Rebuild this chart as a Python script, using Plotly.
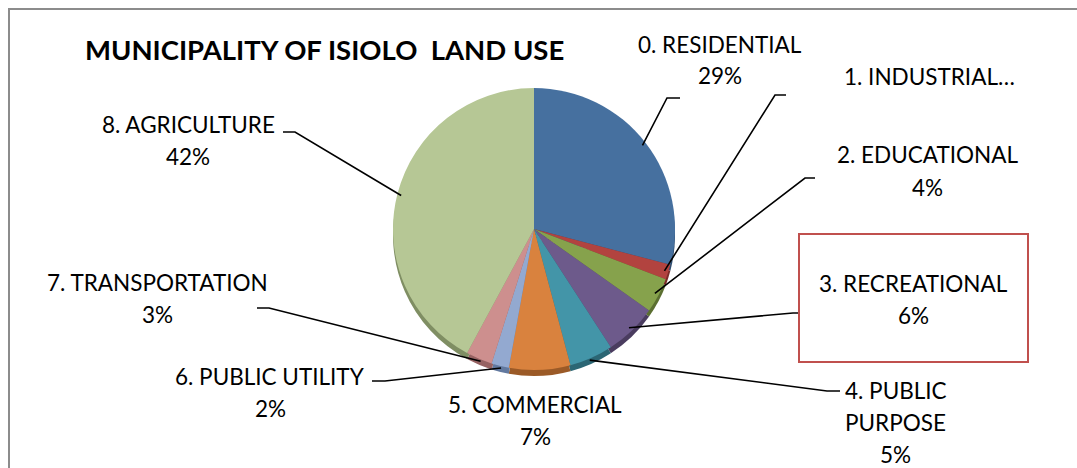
import math
import plotly.graph_objects as go

# Land use shares (%) for the municipality, clockwise from 12 o'clock
categories = [
    "0. RESIDENTIAL", "1. INDUSTRIAL", "2. EDUCATIONAL", "3. RECREATIONAL",
    "4. PUBLIC PURPOSE", "5. COMMERCIAL", "6. PUBLIC UTILITY",
    "7. TRANSPORTATION", "8. AGRICULTURE",
]
values = [29, 1.7, 4, 6, 5, 7, 2, 3, 42]

colors = ["#46709F", "#B2433F", "#86A24C", "#6D5A8B", "#4395A8",
          "#D9823E", "#93A9D0", "#CD8F8E", "#B6C795"]
rim_colors = ["#2E4D70", "#7A2B28", "#5B6F31", "#4A3C5F", "#2B6674",
              "#9B5A27", "#62799F", "#966262", "#7F8E63"]

W, H = 1077, 468
CX, CY, R = 534, 229, 141      # pie centre and radius in pixels
RIM = 6                        # depth of the 3-D edge

def px(x):
    return x / W

def py(y):
    return 1 - y / H

total = sum(values)

# label placement: text centre x, first-line y, leader elbow and leader end
label_layout = [
    dict(x=720, y=44, elbow=(667, 98), end=(680, 98)),
    dict(x=929, y=77, elbow=(775, 95), end=(786, 95), clipped=True),
    dict(x=927, y=155, elbow=(805, 178), end=(815, 178)),
    dict(x=913, y=283, elbow=(793, 313), end=(799, 313)),
    dict(x=896, y=390, elbow=(827, 391), end=(840, 391), wrap=True),
    dict(x=535, y=404),
    dict(x=270, y=376, elbow=(385, 381), end=(372, 381)),
    dict(x=157, y=282, elbow=(269, 308), end=(257, 308)),
    dict(x=188, y=125, elbow=(295, 132), end=(283, 132)),
]
LINE_GAP = 32

fig = go.Figure()

# darker copy drawn lower to give the pie its edge
fig.add_trace(go.Pie(
    values=values, labels=categories, sort=False, direction="clockwise",
    marker=dict(colors=rim_colors, line=dict(width=0)),
    textinfo="none", hoverinfo="skip", showlegend=False,
    domain=dict(x=[px(CX - R), px(CX + R)], y=[py(CY + RIM + R), py(CY + RIM - R)]),
))
fig.add_trace(go.Pie(
    values=values, labels=categories, sort=False, direction="clockwise",
    marker=dict(colors=colors, line=dict(width=0)),
    textinfo="none", hoverinfo="skip", showlegend=False,
    domain=dict(x=[px(CX - R), px(CX + R)], y=[py(CY + R), py(CY - R)]),
))

shapes = []
annotations = []
font = dict(family="Lato, Carlito, sans-serif", size=22.5, color="#000000")

cum = 0.0
for name, v, lay in zip(categories, values, label_layout):
    mid = (cum + v / 2) / total * 2 * math.pi
    cum += v
    share = round(v / total * 100)

    if lay.get("clipped"):
        lines = [name + "…"]
    elif lay.get("wrap"):
        num, rest = name.split(" ", 1)
        first, second = rest.split(" ", 1)
        lines = [f"{num} {first}", second, f"{share}%"]
    else:
        lines = [name, f"{share}%"]

    for i, t in enumerate(lines):
        annotations.append(dict(
            x=px(lay["x"]), y=py(lay["y"] + i * LINE_GAP), xref="paper", yref="paper",
            text=t, showarrow=False, xanchor="center", yanchor="middle", font=font,
        ))

    if "elbow" in lay:
        ax = CX + (R - 4) * math.sin(mid)
        ay = CY - (R - 4) * math.cos(mid)
        if math.cos(mid) < -0.9:
            ay += RIM
        ex, ey = lay["elbow"]
        fx, fy = lay["end"]
        path = f"M {px(ax)},{py(ay)} L {px(ex)},{py(ey)} L {px(fx)},{py(fy)}"
        shapes.append(dict(type="path", path=path, xref="paper", yref="paper",
                           line=dict(color="#000000", width=1.6)))

# highlighted recreational label box
shapes.append(dict(type="rect", xref="paper", yref="paper",
                   x0=px(799), x1=px(1028), y0=py(362), y1=py(234),
                   line=dict(color="#C0504D", width=2)))
# chart area frame
shapes.append(dict(type="rect", xref="paper", yref="paper",
                   x0=px(9), x1=px(1100), y0=py(490), y1=py(9),
                   line=dict(color="#8C8C8C", width=2)))

annotations.append(dict(
    x=px(324), y=py(50), xref="paper", yref="paper",
    text="<b>MUNICIPALITY OF ISIOLO  LAND USE</b>", showarrow=False,
    xanchor="center", yanchor="middle",
    font=dict(family="Lato, Carlito, sans-serif", size=27.5, color="#000000"),
))

fig.update_layout(
    width=W, height=H,
    margin=dict(l=0, r=0, t=0, b=0),
    paper_bgcolor="#FFFFFF",
    plot_bgcolor="#FFFFFF",
    shapes=shapes,
    annotations=annotations,
    showlegend=False,
)

fig.write_html("out.html")
